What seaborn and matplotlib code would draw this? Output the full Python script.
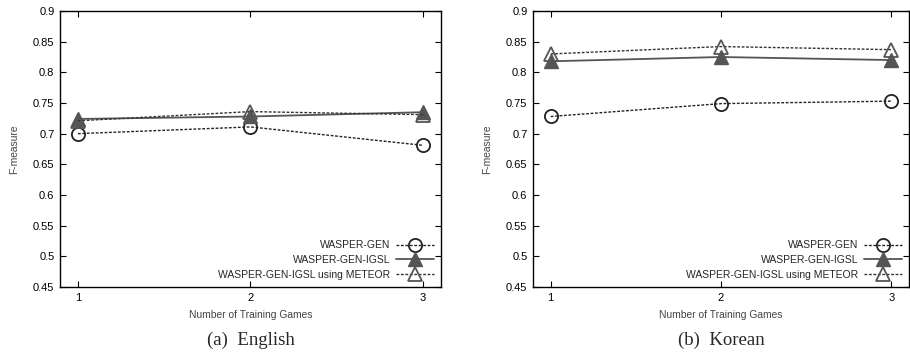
import matplotlib
matplotlib.use("Agg")
import matplotlib.pyplot as plt
import seaborn as sns
import pandas as pd

games = [1, 2, 3]
series_names = ["WASPER-GEN", "WASPER-GEN-IGSL", "WASPER-GEN-IGSL using METEOR"]
english_gen = [0.700, 0.711, 0.681]
english_igsl = [0.724, 0.728, 0.735]
english_meteor = [0.721, 0.736, 0.731]
korean_gen = [0.728, 0.749, 0.753]
korean_igsl = [0.818, 0.825, 0.820]
korean_meteor = [0.830, 0.842, 0.837]
yticks = [0.45, 0.5, 0.55, 0.6, 0.65, 0.7, 0.75, 0.8, 0.85, 0.9]
captions = ["(a)  English", "(b)  Korean"]

sns.set_style("ticks")
plt.rcParams['font.family'] = ['Liberation Sans', 'DejaVu Sans']

fig = plt.figure(figsize=(9.10, 3.57), dpi=100)
W, H = 910, 357
axes_px = [(60, 441), (533, 909)]
top, bottom = 11, 287

styles = [
    dict(marker='o', linestyle=(0, (2, 1.2)), color='#222222', mfc='none', mec='#222222', ms=9.5, mew=1.3, lw=1.0),
    dict(marker='^', linestyle='-', color='#555555', mfc='#555555', mec='#555555', ms=9.5, mew=1.0, lw=1.3),
    dict(marker='^', linestyle=(0, (2, 1.2)), color='#333333', mfc='none', mec='#555555', ms=9.5, mew=1.3, lw=1.0),
]

datasets = [[english_gen, english_igsl, english_meteor], [korean_gen, korean_igsl, korean_meteor]]

for i, (x0, x1) in enumerate(axes_px):
    ax = fig.add_axes([x0 / W, 1 - bottom / H, (x1 - x0) / W, (bottom - top) / H])
    for name, vals, st in zip(series_names, datasets[i], styles):
        df = pd.DataFrame({"games": games, "f": vals})
        sns.lineplot(data=df, x="games", y="f", ax=ax, label=name,
                     marker=st['marker'], linestyle=st['linestyle'], color=st['color'],
                     markerfacecolor=st['mfc'], markeredgecolor=st['mec'],
                     markersize=st['ms'], markeredgewidth=st['mew'], linewidth=st['lw'])
    ax.set_xlim(0.896, 3.104)
    ax.set_ylim(0.45, 0.9)
    ax.set_xticks(games)
    ax.set_xticklabels([str(g) for g in games])
    ax.set_yticks(yticks)
    ax.set_yticklabels([f"{t:g}" for t in yticks])
    ax.tick_params(direction='in', length=4, width=0.8, labelsize=8, top=True, right=True,
                   colors='black', pad=4)
    for s in ax.spines.values():
        s.set_visible(True)
        s.set_linewidth(1.0)
        s.set_color('black')
    ax.set_xlabel("Number of Training Games", fontsize=7.4, color='#444444', labelpad=5)
    ax.set_ylabel("F-measure", fontsize=7.4, color='#444444', labelpad=10)
    ax.legend(loc='lower right', frameon=False, markerfirst=False, fontsize=7.5,
              handlelength=3.6, handletextpad=0.6, labelspacing=0.45,
              borderaxespad=0.3)
    cx = (x0 + x1) / 2
    fig.text(cx / W, 1 - 340 / H, captions[i], ha='center', va='center',
             fontsize=13.5, family=['Liberation Serif', 'DejaVu Serif'])

fig.savefig("out.png", dpi=100)
